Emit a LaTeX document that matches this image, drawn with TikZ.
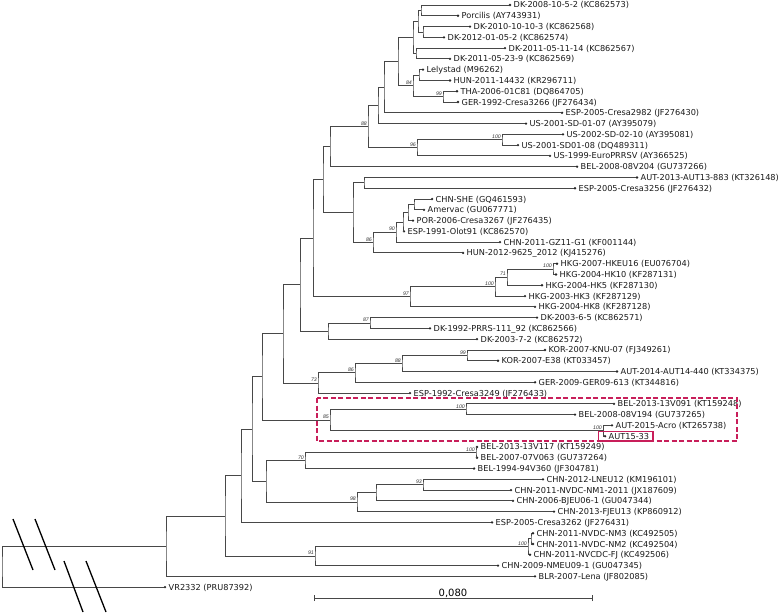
\documentclass[tikz,border=0pt]{standalone}
\usepackage{fontspec}
\setmainfont{DejaVu Sans}
\newfontfamily\libsans{Liberation Sans}
\usetikzlibrary{calc}
\definecolor{boxred}{RGB}{200,30,90}
\tikzset{
  br/.style={draw=black!72, line width=0.9pt},
  tip/.style={circle, fill=black!85, inner sep=0pt, minimum size=2.6pt},
  lab/.style={anchor=west, inner sep=0pt, xshift=2pt, text height=6pt, text depth=0pt, font=\fontsize{8.2}{9}\selectfont, text=black!90},
  bs/.style={anchor=south east, inner sep=0pt, xshift=-1pt, yshift=1pt, font=\libsans\itshape\fontsize{5.2}{6}\selectfont, text=black!80},
  slash/.style={draw=black, line width=1.3pt},
  hl/.style={draw=boxred, line width=1.3pt},
}
\newcommand\lf[4]{\node[tip] (#1) at (#2,{5+(#3-1)*10.78}) {}; \node[lab] (#1t) at (#1.east) {#4};}
\newcommand\tn[5]{\path ($(#3)!.5!(#4)$) coordinate (#1m); \coordinate (#1) at (#2,0 |- #1m); \draw[br] (#3) -| (#1) |- (#4); \ifx\relax#5\relax\else\node[bs] at (#1) {#5};\fi}
\begin{document}
\begin{tikzpicture}[x=1pt,y=-1pt]
\fill[white] (0,0) rectangle (778,613);
\useasboundingbox (0,0) rectangle (778,613);
% leaves
\lf{L1}{510}{1}{DK-2008-10-5-2 (KC862573)}
\lf{L2}{458}{2}{Porcilis (AY743931)}
\lf{L3}{470}{3}{DK-2010-10-10-3 (KC862568)}
\lf{L4}{444}{4}{DK-2012-01-05-2 (KC862574)}
\lf{L5}{505}{5}{DK-2011-05-11-14 (KC862567)}
\lf{L6}{450}{6}{DK-2011-05-23-9 (KC862569)}
\lf{L7}{423}{7}{Lelystad (M96262)}
\lf{L8}{450}{8}{HUN-2011-14432 (KR296711)}
\lf{L9}{457}{9}{THA-2006-01C81 (DQ864705)}
\lf{L10}{458}{10}{GER-1992-Cresa3266 (JF276434)}
\lf{L11}{562}{11}{ESP-2005-Cresa2982 (JF276430)}
\lf{L12}{526}{12}{US-2001-SD-01-07 (AY395079)}
\lf{L13}{563}{13}{US-2002-SD-02-10 (AY395081)}
\lf{L14}{518}{14}{US-2001-SD01-08 (DQ489311)}
\lf{L15}{550}{15}{US-1999-EuroPRRSV (AY366525)}
\lf{L16}{577}{16}{BEL-2008-08V204 (GU737266)}
\lf{L17}{637}{17}{AUT-2013-AUT13-883 (KT326148)}
\lf{L18}{575}{18}{ESP-2005-Cresa3256 (JF276432)}
\lf{L19}{432}{19}{CHN-SHE (GQ461593)}
\lf{L20}{424}{20}{Amervac (GU067771)}
\lf{L21}{413}{21}{POR-2006-Cresa3267 (JF276435)}
\lf{L22}{404}{22}{ESP-1991-Olot91 (KC862570)}
\lf{L23}{500}{23}{CHN-2011-GZ11-G1 (KF001144)}
\lf{L24}{463}{24}{HUN-2012-9625\_2012 (KJ415276)}
\lf{L25}{557}{25}{HKG-2007-HKEU16 (EU076704)}
\lf{L26}{556}{26}{HKG-2004-HK10 (KF287131)}
\lf{L27}{542}{27}{HKG-2004-HK5 (KF287130)}
\lf{L28}{525}{28}{HKG-2003-HK3 (KF287129)}
\lf{L29}{535}{29}{HKG-2004-HK8 (KF287128)}
\lf{L30}{537}{30}{DK-2003-6-5 (KC862571)}
\lf{L31}{430}{31}{DK-1992-PRRS-111\_92 (KC862566)}
\lf{L32}{477}{32}{DK-2003-7-2 (KC862572)}
\lf{L33}{545}{33}{KOR-2007-KNU-07 (FJ349261)}
\lf{L34}{498}{34}{KOR-2007-E38 (KT033457)}
\lf{L35}{617}{35}{AUT-2014-AUT14-440 (KT334375)}
\lf{L36}{535}{36}{GER-2009-GER09-613 (KT344816)}
\lf{L37}{410}{37}{ESP-1992-Cresa3249 (JF276433)}
\lf{L38}{614}{38}{BEL-2013-13V091 (KT159248)}
\lf{L39}{575}{39}{BEL-2008-08V194 (GU737265)}
\lf{L40}{612}{40}{AUT-2015-Acro (KT265738)}
\lf{L41}{605}{41}{AUT15-33}
\lf{L42}{477}{42}{BEL-2013-13V117 (KT159249)}
\lf{L43}{477}{43}{BEL-2007-07V063 (GU737264)}
\lf{L44}{474}{44}{BEL-1994-94V360 (JF304781)}
\lf{L45}{543}{45}{CHN-2012-LNEU12 (KM196101)}
\lf{L46}{511}{46}{CHN-2011-NVDC-NM1-2011 (JX187609)}
\lf{L47}{513}{47}{CHN-2006-BJEU06-1 (GU047344)}
\lf{L48}{554}{48}{CHN-2013-FJEU13 (KP860912)}
\lf{L49}{492}{49}{ESP-2005-Cresa3262 (JF276431)}
\lf{L50}{533}{50}{CHN-2011-NVDC-NM3 (KC492505)}
\lf{L51}{533}{51}{CHN-2011-NVDC-NM2 (KC492504)}
\lf{L52}{530}{52}{CHN-2011-NVCDC-FJ (KC492506)}
\lf{L53}{498}{53}{CHN-2009-NMEU09-1 (GU047345)}
\lf{L54}{535}{54}{BLR-2007-Lena (JF802085)}
\lf{L55}{165}{55}{VR2332 (PRU87392)}
% internal nodes
\tn{n1}{421}{L1}{L2}{}
\tn{n2}{423}{L3}{L4}{}
\tn{n3}{418}{n1}{n2}{}
\tn{n4}{416}{L5}{L6}{}
\tn{n5}{413}{n3}{n4}{}
\tn{n6}{419}{L7}{L8}{}
\tn{n8}{443}{L9}{L10}{99}
\tn{n7}{413}{n6}{n8}{84}
\tn{n10}{398}{n5}{n7}{}
\tn{n11}{384}{n10}{L11}{}
\tn{n12}{378}{n11}{L12}{}
\tn{n14}{502}{L13}{L14}{100}
\tn{n15}{417}{n14}{L15}{96}
\tn{n13}{368}{n12}{n15}{88}
\tn{n16}{330}{n13}{L16}{}
\tn{n18}{364}{L17}{L18}{}
\tn{n24}{414}{L19}{L20}{}
\tn{n23}{408}{n24}{L21}{}
\tn{n22}{403}{n23}{L22}{}
\tn{n21}{396}{n22}{L23}{90}
\tn{n20}{373}{n21}{L24}{86}
\tn{n19}{353}{n18}{n20}{}
\tn{n17}{323}{n16}{n19}{}
\tn{n29}{553}{L25}{L26}{100}
\tn{n28}{507}{n29}{L27}{71}
\tn{n27}{495}{n28}{L28}{100}
\tn{n26}{410}{n27}{L29}{97}
\tn{n25}{313}{n17}{n26}{}
\tn{n31}{370}{L30}{L31}{87}
\tn{n30}{328}{n31}{L32}{}
\tn{n32}{300}{n25}{n30}{}
\tn{n37}{467}{L33}{L34}{99}
\tn{n36}{402}{n37}{L35}{88}
\tn{n35}{355}{n36}{L36}{86}
\tn{n34}{318}{n35}{L37}{73}
\tn{n33}{283}{n32}{n34}{}
\tn{n39}{466}{L38}{L39}{100}
\tn{n40}{603}{L40}{L41}{100}
\tn{n38}{330}{n39}{n40}{85}
\tn{n41}{262}{n33}{n38}{}
\tn{n46}{476}{L42}{L43}{100}
\tn{n44}{305}{n46}{L44}{70}
\tn{n48}{423}{L45}{L46}{93}
\tn{n47}{376}{n48}{L47}{}
\tn{n45}{357}{n47}{L48}{98}
\tn{n43}{266}{n44}{n45}{}
\tn{n42}{252}{n41}{n43}{}
\tn{n49}{241}{n42}{L49}{}
\tn{n53}{531}{L50}{L51}{}
\tn{n52}{528}{n53}{L52}{100}
\tn{n51}{315}{n52}{L53}{91}
\tn{n50}{225}{n49}{n51}{}
\tn{n54}{166}{n50}{L54}{}
\tn{root}{2}{n54}{L55}{}
% highlight boxes
\draw[hl, dash pattern=on 5pt off 2.5pt] (317,398) rectangle (737,441);
\draw[hl, line width=1.1pt] (598.5,431.5) rectangle (653,441);
% break marks
\draw[slash] (13,519) -- (33,570);
\draw[slash] (35,519) -- (55,570);
\draw[slash] (64,561) -- (83,612);
\draw[slash] (86,561) -- (106,612);
% scale bar
\coordinate (s1) at (314,598);
\coordinate (s2) at (592,598);
\draw[br] (s1) -- (s2);
\draw[br] ([yshift=-3pt]s1) -- ([yshift=3pt]s1);
\draw[br] ([yshift=-3pt]s2) -- ([yshift=3pt]s2);
\node[anchor=base, inner sep=0pt, font=\fontsize{10}{12}\selectfont] (sl) at (453,596) {0,080};
\end{tikzpicture}
\end{document}
